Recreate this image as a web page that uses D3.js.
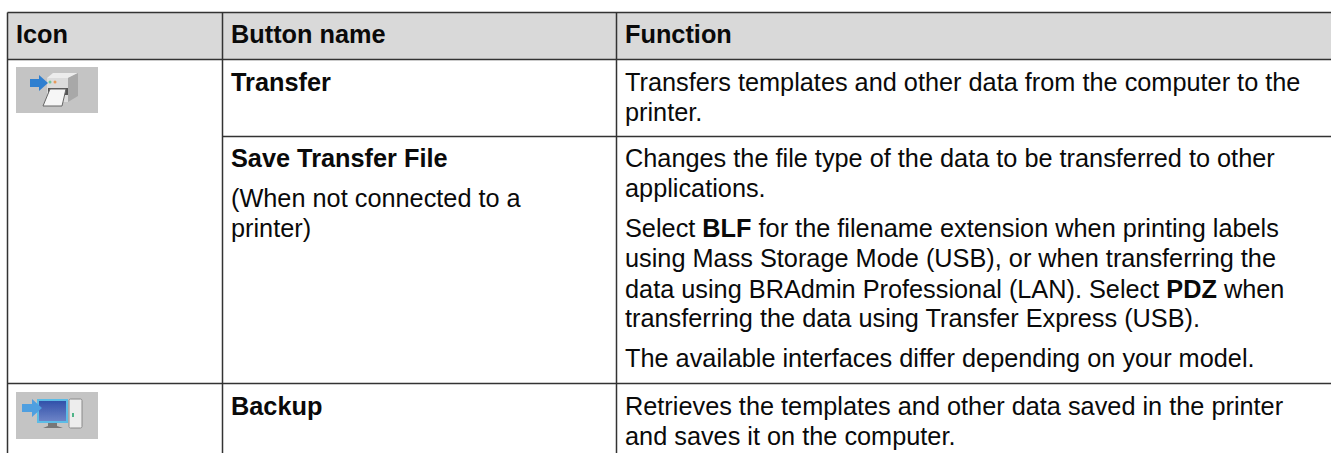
<!DOCTYPE html>
<html>
<head>
<meta charset="utf-8">
<script src="https://cdn.jsdelivr.net/npm/d3@7"></script>
<style>
html, body { margin: 0; padding: 0; background: #fff; overflow: hidden; }
text { font-family: "Liberation Sans", Arial, sans-serif; font-size: 25.3px; fill: #0a0a0a; }
</style>
</head>
<body>
<svg id="chart" width="1331" height="453"></svg>
<script>
var columns = ["Icon", "Button name", "Function"];
var rowNames = ["header", "Transfer", "Save Transfer File", "Backup"];

// each line is a list of [text, bold] runs
var nameLines = [
  [[["Transfer", true]]],
  [[["Save Transfer File", true]], [["(When not connected to a", false]], [["printer)", false]]],
  [[["Backup", true]]]
];
var functionLines = [
  [[["Transfers templates and other data from the computer to the", false]],
   [["printer.", false]]],
  [[["Changes the file type of the data to be transferred to other", false]],
   [["applications.", false]],
   [["Select ", false], ["BLF", true], [" for the filename extension when printing labels", false]],
   [["using Mass Storage Mode (USB), or when transferring the", false]],
   [["data using BRAdmin Professional (LAN). Select ", false], ["PDZ", true], [" when", false]],
   [["transferring the data using Transfer Express (USB).", false]],
   [["The available interfaces differ depending on your model.", false]]],
  [[["Retrieves the templates and other data saved in the printer", false]],
   [["and saves it on the computer.", false]]]
];
var nameBaselines = [[91], [167, 207, 237], [415]];
var functionBaselines = [[91, 121], [167, 197, 237, 267, 298, 327, 367], [415, 445]];

var svg = d3.select("#chart");

var x = d3.scaleOrdinal().domain(columns.concat("end")).range([7.5, 222.5, 616.5, 1331]);
var y = d3.scaleOrdinal().domain(rowNames.concat("end")).range([12.5, 59.5, 136.5, 383.5, 460]);
var lineColor = "#333";

svg.append("rect")
  .attr("x", x("Icon")).attr("y", y("header"))
  .attr("width", x("end") - x("Icon")).attr("height", y("Transfer") - y("header"))
  .attr("fill", "#d9d9d9");

var hLines = [
  ["header", "Icon"], ["Transfer", "Icon"], ["Save Transfer File", "Button name"], ["Backup", "Icon"]
];
svg.selectAll(".hline").data(hLines).enter().append("line")
  .attr("class", "hline")
  .attr("x1", function(d) { return x(d[1]); })
  .attr("x2", x("end"))
  .attr("y1", function(d) { return y(d[0]); })
  .attr("y2", function(d) { return y(d[0]); })
  .attr("stroke", lineColor).attr("stroke-width", 1.5);

svg.selectAll(".vline").data(columns).enter().append("line")
  .attr("class", "vline")
  .attr("x1", function(d) { return x(d); })
  .attr("x2", function(d) { return x(d); })
  .attr("y1", y("header")).attr("y2", 453)
  .attr("stroke", lineColor).attr("stroke-width", 1.5);

// header text
svg.selectAll(".head").data(columns).enter().append("text")
  .attr("class", "head")
  .attr("x", function(d) { return x(d) + 8.5; })
  .attr("y", 43)
  .attr("font-weight", "bold")
  .text(function(d) { return d; });

var drawLines = function (lines, baselines, left) {
  lines.forEach(function(line, i) {
    var t = svg.append("text").attr("x", left).attr("y", baselines[i]);
    line.forEach(function(run) {
      t.append("tspan").attr("font-weight", run[1] ? "bold" : "normal").style("white-space", "pre").text(run[0]);
    });
  });
}

nameLines.forEach(function(lines, i) { drawLines(lines, nameBaselines[i], x("Button name") + 8.5); });
functionLines.forEach(function(lines, i) { drawLines(lines, functionBaselines[i], x("Function") + 8.5); });

// icons
var defs = svg.append("defs");
defs.append("filter").attr("id", "soft").append("feGaussianBlur").attr("stdDeviation", 0.6);
var screen = defs.append("linearGradient").attr("id", "screen").attr("x1", 0).attr("y1", 0).attr("x2", 0).attr("y2", 1);
screen.append("stop").attr("offset", 0).attr("stop-color", "#2f4fa8");
screen.append("stop").attr("offset", 1).attr("stop-color", "#6f86c8");

svg.append("rect").attr("x", 16).attr("y", 67).attr("width", 82).attr("height", 46).attr("fill", "#c4c4c4");
var printerIcon = svg.append("g").attr("transform", "translate(16,67)").attr("filter", "url(#soft)");
printerIcon.append("path").attr("d", "M37 6 L62 6 L52 11 L31 11 Z").attr("fill", "#ececec");
printerIcon.append("path").attr("d", "M31 11 L52 11 L52 35 L31 35 Z").attr("fill", "#dcdcdc");
printerIcon.append("path").attr("d", "M52 11 L62 6 L62 29 L52 35 Z").attr("fill", "#a8a8a8");
printerIcon.append("path").attr("d", "M32 21 L52 21 L52 28 L32 28 Z").attr("fill", "#555");
printerIcon.append("path").attr("d", "M34 22 L50 22 L46 39 L27 39 Z").attr("fill", "#f6f6f6").attr("stroke", "#666");
printerIcon.append("path").attr("d", "M14 12 L23 12 L23 8 L32 16 L23 24 L23 20 L14 20 Z").attr("fill", "#2f7fd0");
printerIcon.append("circle").attr("cx", 34).attr("cy", 15).attr("r", 1.5).attr("fill", "#6fc49a");
printerIcon.append("circle").attr("cx", 39).attr("cy", 15).attr("r", 1.5).attr("fill", "#e89a5a");

svg.append("rect").attr("x", 16).attr("y", 392).attr("width", 82).attr("height", 47).attr("fill", "#c4c4c4");
var pcIcon = svg.append("g").attr("transform", "translate(16,392)").attr("filter", "url(#soft)");
pcIcon.append("rect").attr("x", 22).attr("y", 8).attr("width", 29).attr("height", 22).attr("fill", "url(#screen)").attr("stroke", "#5cbce6").attr("stroke-width", 2);
pcIcon.append("path").attr("d", "M32 31 L41 31 L41 34 L47 36 L27 36 L32 34 Z").attr("fill", "#777");
pcIcon.append("rect").attr("x", 53).attr("y", 7).attr("width", 13).attr("height", 29).attr("rx", 1.5).attr("fill", "#ededed").attr("stroke", "#8a8a8a");
pcIcon.append("rect").attr("x", 56).attr("y", 21).attr("width", 2).attr("height", 4).attr("fill", "#4fb488");
pcIcon.append("path").attr("d", "M6 12 L16 12 L16 7 L26 16 L16 25 L16 20 L6 20 Z").attr("fill", "#4f9fe0");
</script>
</body>
</html>
